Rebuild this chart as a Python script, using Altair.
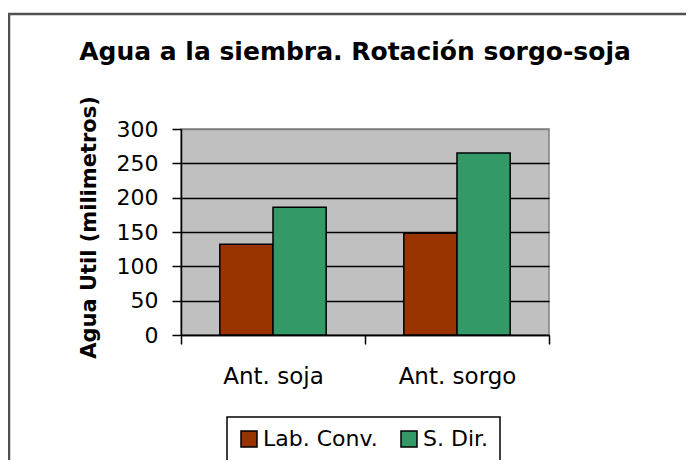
import altair as alt
import pandas as pd

categories = ["Ant. soja", "Ant. sorgo"]
series = ["Lab. Conv.", "S. Dir."]
lab_conv = [132, 148]
s_dir = [186, 265]
colors = ["#993300", "#339966"]
y_ticks = [0, 50, 100, 150, 200, 250, 300]

rows = []
for i, c in enumerate(categories):
    rows.append({"cat": c, "serie": series[0], "valor": lab_conv[i]})
    rows.append({"cat": c, "serie": series[1], "valor": s_dir[i]})
df = pd.DataFrame(rows)

FONT = "DejaVu Sans"

bars = alt.Chart(df).mark_bar(stroke="black", strokeWidth=1.5).encode(
    x=alt.X(
        "cat:N",
        sort=categories,
        title=None,
        scale=alt.Scale(paddingInner=0, paddingOuter=0),
        axis=alt.Axis(
            labelAngle=0,
            labelFont=FONT,
            labelFontSize=23,
            labelColor="black",
            labelPadding=21,
            tickBand="extent",
            tickSize=9,
            tickColor="black",
            tickWidth=1.5,
            domainColor="black",
            domainWidth=1.5,
            grid=False,
        ),
    ),
    xOffset=alt.XOffset(
        "serie:N",
        sort=series,
        scale=alt.Scale(paddingOuter=0.73, paddingInner=0),
    ),
    y=alt.Y(
        "valor:Q",
        scale=alt.Scale(domain=[0, 300], nice=False),
        axis=alt.Axis(
            values=y_ticks,
            title="Agua Util (milimetros)",
            titleFont=FONT,
            titleFontSize=21,
            titleFontWeight="bold",
            titleColor="black",
            titleAngle=270,
            titleAlign="center",
            titleBaseline="middle",
            titleX=-92,
            titleY=98,
            labelFont=FONT,
            labelFontSize=22,
            labelColor="black",
            labelPadding=14,
            tickSize=9,
            tickColor="black",
            tickWidth=1.5,
            domainColor="black",
            domainWidth=1.5,
            grid=True,
            gridColor=alt.condition("datum.value >= 300", alt.value("#808080"), alt.value("black")),
            gridWidth=1.5,
        ),
    ),
    color=alt.Color(
        "serie:N",
        sort=series,
        scale=alt.Scale(domain=series, range=colors),
        title=None,
        legend=alt.Legend(
            orient="none",
            legendX=46,
            legendY=288,
            direction="horizontal",
            symbolType="square",
            symbolSize=256,
            symbolStrokeColor="black",
            symbolStrokeWidth=1.5,
            labelFont=FONT,
            labelFontSize=22,
            labelColor="black",
            labelOffset=3,
            columnPadding=20,
            padding=11,
            strokeColor="black",
            fillColor="white",
        ),
    ),
)

border = alt.Chart(pd.DataFrame({"k": [0]})).mark_rect(
    fillOpacity=0, stroke="#505050", strokeWidth=2.5
).encode(
    x=alt.value(-172),
    x2=alt.value(700),
    y=alt.value(-115),
    y2=alt.value(500),
)

chart = alt.layer(border, bars).properties(
    width=368,
    height=206,
    background="white",
    autosize=alt.AutoSizeParams(type="none"),
    padding={"left": 173, "top": 121, "right": 137, "bottom": 125},
    title=alt.TitleParams(
        text="Agua a la siembra. Rotación sorgo-soja",
        font=FONT,
        fontSize=25,
        fontWeight="bold",
        color="black",
        anchor="middle",
        dx=-10,
        dy=87,
        offset=15,
        baseline="alphabetic",
    ),
).configure_view(
    fill="#C0C0C0", stroke="#808080", strokeWidth=1.5
).configure_legend(
    strokeWidth=1.5
)

chart.save("out.html", embed_options={"renderer": "svg", "actions": False})
